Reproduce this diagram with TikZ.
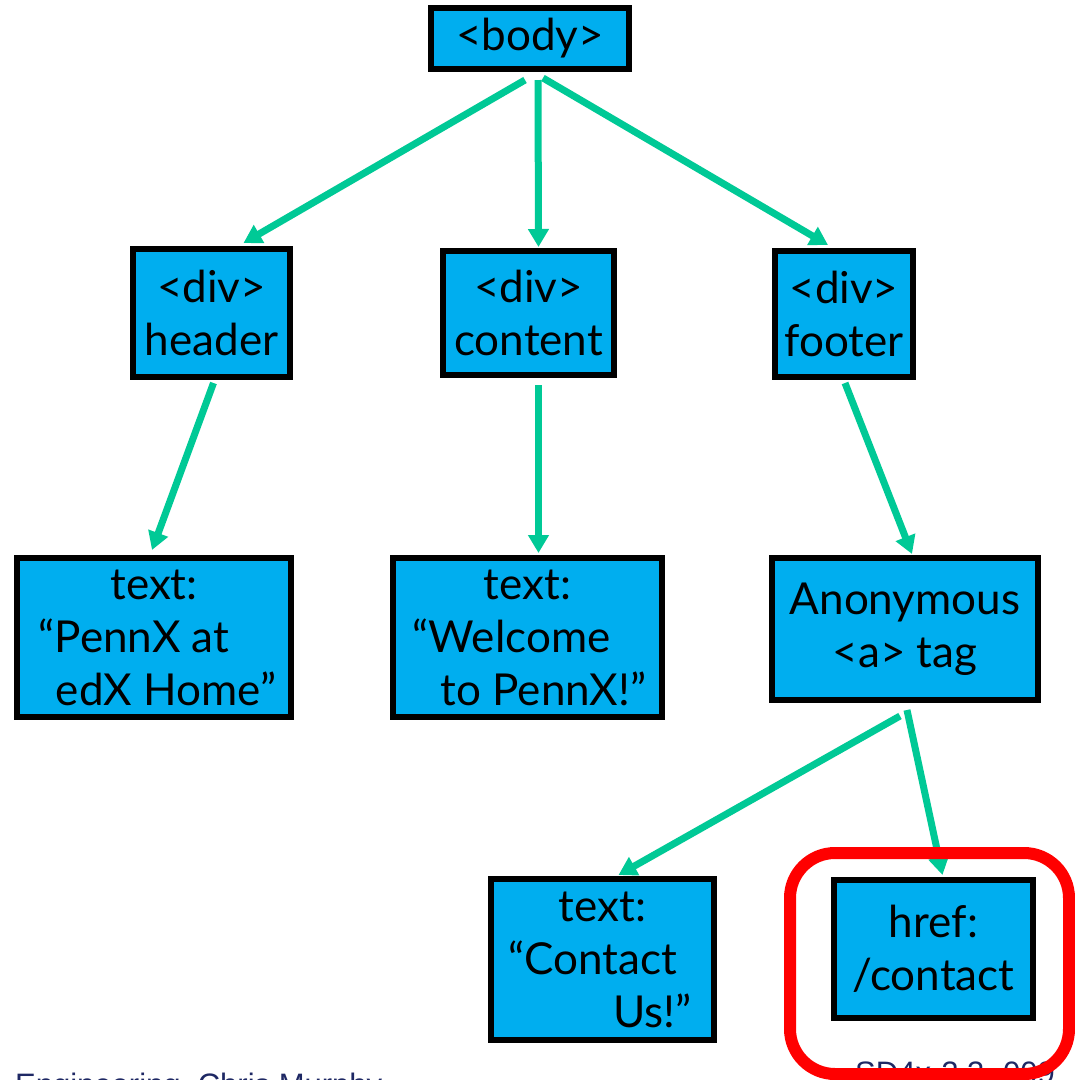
\documentclass[tikz,border=0pt]{standalone}
\usepackage{fontspec}
\setmainfont{Lato}
\newfontfamily\footfont{Liberation Sans}
\usetikzlibrary{arrows.meta,calc}
\definecolor{boxblue}{RGB}{0,174,239}
\definecolor{arrgreen}{RGB}{0,201,150}
\definecolor{footnavy}{RGB}{30,40,100}
\definecolor{hlred}{RGB}{255,0,0}
\tikzset{
  treebox/.style={draw=black, line width=6pt, fill=boxblue, inner sep=0pt,
    align=center, font=\fontsize{44}{53}\selectfont, text=black},
  treearrow/.style={draw=arrgreen, line width=7pt,
    -{Triangle[length=18pt,width=20pt]}},
  foottext/.style={font=\footfont\fontsize{31}{36}\selectfont, text=footnavy,
    anchor=base west, inner sep=0pt}
}
\begin{document}
\begin{tikzpicture}[x=1pt,y=-1pt]
\useasboundingbox (0,0) rectangle (1075,1080);
\clip (0,0) rectangle (1075,1080);
\fill[white] (0,0) rectangle (1075,1080);

\node[treebox, minimum width=198pt, minimum height=61pt] (body) at (530,38.5) {<body>};
\node[treebox, minimum width=157pt, minimum height=128pt] (header) at (211.5,313) {<div>\\header};
\node[treebox, minimum width=171pt, minimum height=124pt] (content) at (528.5,313) {<div>\\content};
\node[treebox, minimum width=138pt, minimum height=126pt] (footer) at (844,314) {<div>\\footer};
\node[treebox, minimum width=274pt, minimum height=159pt] (penn) at (154,637.5)
  {text:\\\kern4pt“PennX at\kern44pt\\\kern24pt edX Home”};
\node[treebox, minimum width=269pt, minimum height=159pt] (welcome) at (527.5,637.5)
  {text:\\“Welcome\kern32pt\\\kern32pt to PennX!”};
\node[treebox, minimum width=266pt, minimum height=142pt] (anon) at (905,629)
  {Anonymous\\<a> tag};
\node[treebox, minimum width=223pt, minimum height=161pt] (contact) at (602.5,959.5)
  {text:\\“Contact\kern20pt\\\kern100pt Us!”};
\node[treebox, minimum width=199pt, minimum height=138pt] (href) at (933.5,949)
  {href:\\/contact};

\draw[treearrow] ($(body.south)+(-5,8)$) -- ($(header.north)+(32,-3)$);
\draw[treearrow] ($(body.south)+(8,8)$) -- ($(content.north)+(10,-1)$);
\draw[treearrow] ($(body.south)+(13,6)$) -- ($(footer.north)+(-16,-3)$);
\draw[treearrow] ($(header.south)+(2,3)$) -- ($(penn.north)+(-2,-5)$);
\draw[treearrow] ($(content.south)+(10,7)$) -- ($(welcome.north)+(11,-2)$);
\draw[treearrow] ($(footer.south)+(1,3)$) -- ($(anon.north)+(7,-1)$);
\draw[treearrow] ($(anon.south)+(-5,13)$) -- ($(contact.north)+(16,-1)$);
\draw[treearrow] ($(anon.south)+(2,7)$) -- ($(href.north)+(9,-2)$);

\node[foottext] (footl) at (15,1095) {Engineering, Chris Murphy};
\node[foottext] (footr) at (855,1083) {SD4x-2.3};
\node[foottext] (footn) at (1003,1083) {009};

\draw[hlred, line width=12pt, rounded corners=45pt] (790,853) rectangle (1069,1074);
\end{tikzpicture}
\end{document}
